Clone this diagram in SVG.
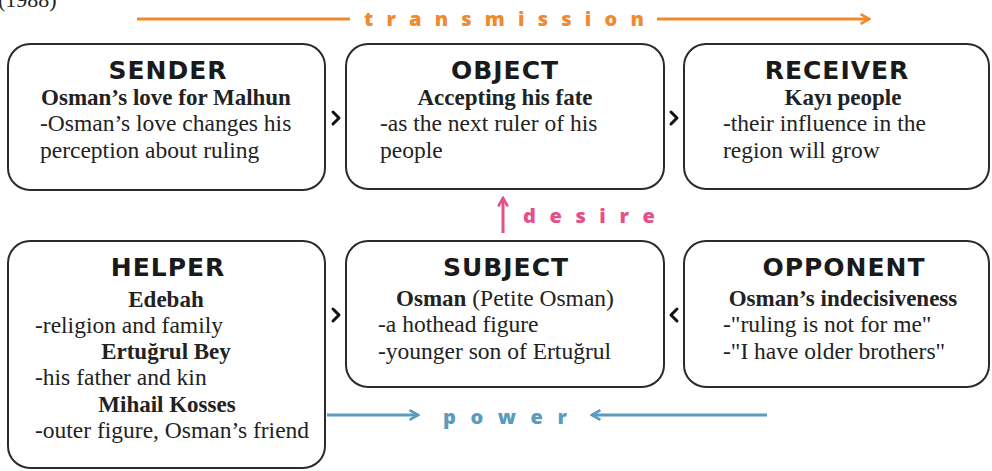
<svg xmlns="http://www.w3.org/2000/svg" width="992" height="471" viewBox="0 0 992 471">
<style>
.box{fill:#fff;stroke:#2b2b2b;stroke-width:2}
.ttl{font-family:"DejaVu Sans","Open Sans",sans-serif;font-weight:700;font-size:25px;letter-spacing:1px;fill:#1a1a1a;text-anchor:middle}
.sub{font-family:"Liberation Serif",serif;font-weight:700;font-size:23px;fill:#222}
.bd{font-family:"Liberation Serif",serif;font-size:23.5px;fill:#222}
.c{text-anchor:middle}
.chev{fill:none;stroke:#111;stroke-width:3;stroke-linecap:round;stroke-linejoin:round}
.lbl{font-family:"Open Sans","Liberation Sans",sans-serif;font-weight:800;font-size:20px}
</style>
<defs>
<marker id="ao" viewBox="0 0 10 10" refX="8" refY="5" markerWidth="4" markerHeight="4" orient="auto"><path d="M1,1 L8,5 L1,9" fill="none" stroke="#F08A2C" stroke-width="2.2"/></marker>
<marker id="ap" viewBox="0 0 10 10" refX="8" refY="5" markerWidth="4" markerHeight="4" orient="auto"><path d="M1,1 L8,5 L1,9" fill="none" stroke="#E5508A" stroke-width="2.2"/></marker>
<marker id="ab" viewBox="0 0 10 10" refX="8" refY="5" markerWidth="4" markerHeight="4" orient="auto"><path d="M1,1 L8,5 L1,9" fill="none" stroke="#5A9CC0" stroke-width="2.2"/></marker>
</defs>
<text x="-2" y="7" font-family="Liberation Serif,serif" font-size="22" fill="#222">(1988)</text>

<g id="sender">
<rect class="box" x="8" y="44" width="317" height="146" rx="22"/>
<text class="ttl" x="168" y="79">SENDER</text>
<text class="sub c" x="166" y="105">Osman’s love for Malhun</text>
<text class="bd" x="40" y="131">-Osman’s love changes his</text>
<text class="bd" x="40" y="158">perception about ruling</text>
</g>
<g id="object">
<rect class="box" x="346" y="44" width="318" height="145" rx="22"/>
<text class="ttl" x="505" y="79">OBJECT</text>
<text class="sub c" x="505" y="105">Accepting his fate</text>
<text class="bd" x="380" y="131">-as the next ruler of his</text>
<text class="bd" x="380" y="158">people</text>
</g>
<g id="receiver">
<rect class="box" x="684" y="44" width="305" height="145" rx="22"/>
<text class="ttl" x="837" y="79">RECEIVER</text>
<text class="sub c" x="843" y="105">Kayı people</text>
<text class="bd" x="723" y="131">-their influence in the</text>
<text class="bd" x="723" y="158">region will grow</text>
</g>
<g id="helper">
<rect class="box" x="8" y="241" width="317" height="227" rx="22"/>
<text class="ttl" x="168" y="276">HELPER</text>
<text class="sub c" x="166" y="307">Edebah</text>
<text class="bd" x="35" y="333">-religion and family</text>
<text class="sub c" x="166" y="359">Ertuğrul Bey</text>
<text class="bd" x="35" y="385">-his father and kin</text>
<text class="sub c" x="167" y="412">Mihail Kosses</text>
<text class="bd" x="35" y="438">-outer figure, Osman’s friend</text>
</g>
<g id="subject">
<rect class="box" x="346" y="241" width="318" height="146" rx="22"/>
<text class="ttl" x="506" y="276">SUBJECT</text>
<text class="bd c" x="505" y="306"><tspan font-weight="700" font-size="23">Osman</tspan> (Petite Osman)</text>
<text class="bd" x="378" y="332">-a hothead figure</text>
<text class="bd" x="378" y="359">-younger son of Ertuğrul</text>
</g>
<g id="opponent">
<rect class="box" x="684" y="241" width="305" height="146" rx="22"/>
<text class="ttl" x="844" y="276">OPPONENT</text>
<text class="sub c" x="843" y="306">Osman’s indecisiveness</text>
<text class="bd" x="723" y="332">-"ruling is not for me"</text>
<text class="bd" x="723" y="359">-"I have older brothers"</text>
</g>

<g id="connectors">
<path class="chev" d="M333,112 L339,118 L333,124"/>
<path class="chev" d="M671,112 L677,118 L671,124"/>
<path class="chev" d="M333,309 L339,315 L333,321"/>
<path class="chev" d="M677,309 L671,315 L677,321"/>
<line x1="137" y1="19" x2="350" y2="19" stroke="#F08A2C" stroke-width="3"/>
<line x1="657" y1="19" x2="869" y2="19" stroke="#F08A2C" stroke-width="3" marker-end="url(#ao)"/>
<text class="lbl" x="364" y="26" fill="#F08A2C" letter-spacing="13.2">transmission</text>
<line x1="503" y1="233" x2="503" y2="198" stroke="#E5508A" stroke-width="3" marker-end="url(#ap)"/>
<text class="lbl" x="523" y="223" fill="#E5508A" letter-spacing="13.6">desire</text>
<line x1="327" y1="415" x2="418" y2="415" stroke="#5A9CC0" stroke-width="3" marker-end="url(#ab)"/>
<line x1="767" y1="415" x2="592" y2="415" stroke="#5A9CC0" stroke-width="3" marker-end="url(#ab)"/>
<text class="lbl" x="443" y="424" fill="#5A9CC0" letter-spacing="14.6">power</text>
</g>
</svg>
